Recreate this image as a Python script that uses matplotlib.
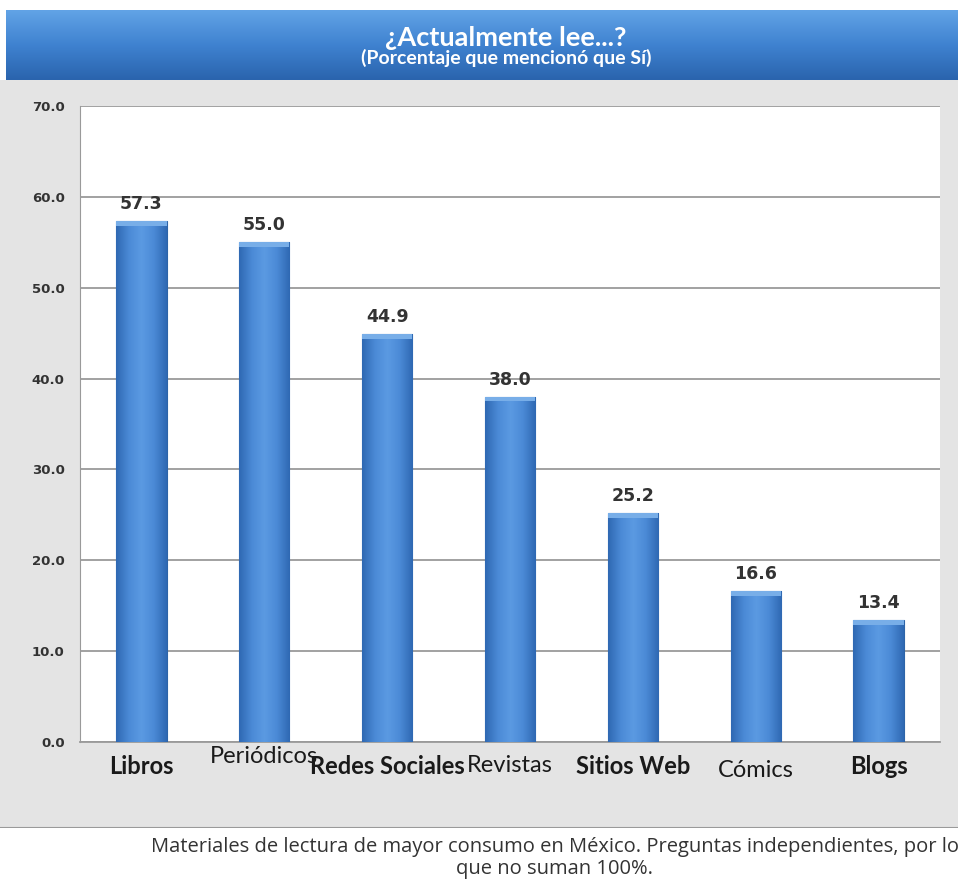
import numpy as np
import matplotlib.pyplot as plt
from matplotlib.patches import Rectangle
from matplotlib.colors import LinearSegmentedColormap

plt.rcParams['font.family'] = ['Lato', 'DejaVu Sans']

categories = ["Libros", "Periódicos", "Redes Sociales", "Revistas", "Sitios Web", "Cómics", "Blogs"]
values = [57.3, 55.0, 44.9, 38.0, 25.2, 16.6, 13.4]
bold_label = [True, False, True, False, True, False, True]
label_drop = [0, -6, 0, 0, 0, 4, 0]   # small vertical offsets of the x labels (points)
y_ticks = [0, 10, 20, 30, 40, 50, 60, 70]

title = "¿Actualmente lee...?"
subtitle = "(Porcentaje que mencionó que Sí)"
caption = ("Materiales de lectura de mayor consumo en México. Preguntas independientes, por lo\n"
           "que no suman 100%.")

W, H = 958, 881
fig = plt.figure(figsize=(W / 100, H / 100), dpi=100)
fig.patch.set_facecolor("white")

# gray background panel
bg = fig.add_axes([0, 1 - 828 / H, 1, (828 - 80) / H])
bg.set_axis_off()
bg.add_patch(Rectangle((0, 0), 1, 1, transform=bg.transAxes, color="#e4e4e4"))
bg.axhline(0, color="#9a9a9a", lw=1.5)

# blue header band
hd = fig.add_axes([6 / W, 1 - 80 / H, 1 - 6 / W, 70 / H])
grad = np.linspace(0, 1, 100).reshape(-1, 1)
hd.imshow(grad, aspect="auto", cmap=LinearSegmentedColormap.from_list(
    "hdr", ["#62a3e6", "#3f82d0", "#2a64ad"]), extent=[0, 1, 1, 0])
hd.set_axis_off()
hd.text(0.525, 0.60, title, transform=hd.transAxes, ha="center", va="center",
        color="white", fontsize=19.5, fontweight="bold")
hd.text(0.525, 0.31, subtitle, transform=hd.transAxes, ha="center", va="center",
        color="white", fontsize=14, fontweight="bold")

# main plot
ax = fig.add_axes([80 / W, 1 - 742 / H, (940 - 80) / W, (742 - 106) / H])
ax.set_facecolor("white")
x = np.arange(len(categories))
bars = ax.bar(x, values, width=0.41, color="#3f7fcf", edgecolor="#2d64a8", linewidth=0.8, zorder=3)

bar_cmap = LinearSegmentedColormap.from_list(
    "bar", ["#2f69b3", "#4b8ad6", "#5b9ae2", "#4b8ad6", "#2f69b3"])
hgrad = np.linspace(0, 1, 64).reshape(1, -1)
for b in bars:
    x0, w, h = b.get_x(), b.get_width(), b.get_height()
    im = ax.imshow(hgrad, aspect="auto", cmap=bar_cmap, extent=[x0, x0 + w, 0, h], zorder=3.5)
    im.set_clip_path(b)
    ax.add_patch(Rectangle((x0, h - 0.5), w, 0.5, color="#78aee8", zorder=4, lw=0))

for xi, v in zip(x, values):
    ax.text(xi, v + 0.9, f"{v:.1f}", ha="center", va="bottom", fontsize=12.5,
            fontweight="bold", color="#333333", family="DejaVu Sans")

ax.set_xlim(-0.5, len(categories) - 0.5)
ax.set_ylim(0, 70)
ax.set_yticks(y_ticks)
ax.set_yticklabels([f"{t:.1f}" for t in y_ticks], fontsize=9.5, fontweight="bold",
                   color="#333333", family="DejaVu Sans")
ax.tick_params(axis="y", length=0, pad=11)
ax.set_xticks(x)
ax.set_xticklabels([])
ax.tick_params(axis="x", length=0)
ax.grid(axis="y", color="#9a9a9a", lw=1.3, zorder=0)
ax.set_axisbelow(True)
for s in ["top", "right"]:
    ax.spines[s].set_visible(False)
ax.spines["left"].set_color("#9a9a9a")
ax.spines["bottom"].set_color("#9a9a9a")
ax.spines["bottom"].set_linewidth(1.3)

for xi, lab, bld, dy in zip(x, categories, bold_label, label_drop):
    ax.annotate(lab, (xi, 0), xytext=(0, -9 - dy), textcoords="offset points",
                ha="center", va="top", fontsize=17,
                fontweight="bold" if bld else "normal", color="#1a1a1a")

fig.text(555 / W, 1 - 858 / H, caption, ha="center", va="center", fontsize=14.5,
         color="#333333", linespacing=1.15, family="Open Sans")

fig.savefig("out.png", dpi=100)
